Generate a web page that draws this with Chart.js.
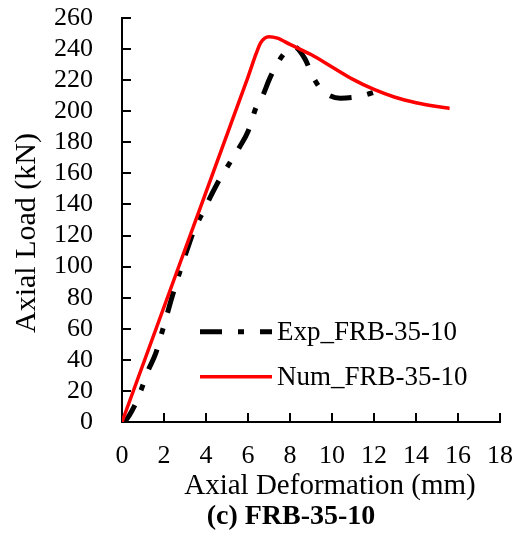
<!DOCTYPE html>
<html>
<head>
<meta charset="utf-8">
<title>FRB-35-10</title>
<script src="https://cdn.jsdelivr.net/npm/chart.js@4.4.1/dist/chart.umd.min.js"></script>
<style>
  html, body { margin: 0; padding: 0; background: #fff; }
  #wrap { width: 515px; height: 544px; }
</style>
</head>
<body>
<div id="wrap"><canvas id="loadDeformChart" width="515" height="544"></canvas></div>
<script>
// Axial load vs axial deformation for specimen FRB-35-10

// test curve (mm, kN)
const expDeformation = [0, 0.17, 0.57, 0.92, 1.21, 1.6, 1.8, 2.1, 2.35, 2.81, 3.13, 3.45, 3.85, 4.25, 4.64, 5.12, 5.6, 6.0, 6.4, 6.7, 7.03, 7.5, 7.9, 8.22, 8.7, 9.1, 9.5, 10.4, 11.3, 12.2];
const expLoad = [0, 1, 9.7, 21, 32, 44, 53, 67, 79, 99, 112, 124, 135, 146, 156, 166.5, 177, 187, 203, 210, 221, 233, 239.6, 241.3, 234, 222, 214, 208.4, 209.5, 213];

// FE model curve (mm, kN)
const numDeformation = [0, 1, 2, 3, 4, 5, 6, 6.4, 6.6, 6.8, 7.0, 7.4, 8, 9, 10, 11, 12, 13, 14, 15, 15.6];
const numLoad = [0, 37, 74, 111, 148, 185, 222, 237.5, 244, 247, 248, 247, 243, 236.5, 228.5, 220.5, 214, 209, 205.5, 203, 201.8];

const xTickValues = [0, 2, 4, 6, 8, 10, 12, 14, 16, 18];
const yTickValues = [0, 20, 40, 60, 80, 100, 120, 140, 160, 180, 200, 220, 240, 260];

const seriesLabels = ['Exp_FRB-35-10', 'Num_FRB-35-10'];
const xTitle = 'Axial Deformation (mm)';
const yTitle = 'Axial Load (kN)';
const caption = '(c) FRB-35-10';

const SERIF = '"Liberation Serif", "Times New Roman", serif';

const toPoints = (xs, ys) => xs.map((x, i) => ({ x, y: ys[i] }));

// axis titles, caption and the in-plot legend
const figureText = {
  id: 'figureText',
  afterDraw(chart) {
    const { ctx } = chart;
    ctx.save();
    ctx.fillStyle = '#000';
    ctx.textBaseline = 'middle';

    ctx.textAlign = 'center';
    ctx.font = `29px ${SERIF}`;
    ctx.fillText(xTitle, 330, 486);

    ctx.save();
    ctx.translate(27, 233);
    ctx.rotate(-Math.PI / 2);
    ctx.font = `30px ${SERIF}`;
    ctx.fillText(yTitle, 0, 0);
    ctx.restore();

    ctx.font = `bold 28px ${SERIF}`;
    ctx.fillText(caption, 291, 517);

    // legend rows
    const rows = [331.7, 376.7];
    ctx.textAlign = 'left';
    ctx.font = `27px ${SERIF}`;
    chart.data.datasets.forEach((ds, i) => {
      const y = rows[i];
      ctx.save();
      ctx.strokeStyle = ds.borderColor;
      ctx.lineWidth = ds.borderWidth;
      ctx.setLineDash(ds.borderDash || []);
      ctx.lineCap = 'butt';
      ctx.beginPath();
      ctx.moveTo(200, y);
      ctx.lineTo(272, y);
      ctx.stroke();
      ctx.restore();
      ctx.fillText(ds.label, 277, y + 1);
    });
    ctx.restore();
  }
};

const axisStyle = {
  border: { display: true, color: '#000', width: 2 },
  grid: { drawOnChartArea: false, drawTicks: true, tickLength: -9, color: '#000', lineWidth: 2 }
};

new Chart(document.getElementById('loadDeformChart'), {
  type: 'line',
  data: {
    datasets: [
      {
        label: seriesLabels[0],
        data: toPoints(expDeformation, expLoad),
        borderColor: '#000',
        borderWidth: 5,
        borderDash: [22, 16, 6, 16],
        pointRadius: 0,
        cubicInterpolationMode: 'monotone',
        order: 1
      },
      {
        label: seriesLabels[1],
        data: toPoints(numDeformation, numLoad),
        borderColor: '#ff0000',
        borderWidth: 3.5,
        pointRadius: 0,
        cubicInterpolationMode: 'monotone',
        order: 0
      }
    ]
  },
  options: {
    responsive: false,
    animation: false,
    devicePixelRatio: 1,
    layout: { padding: { top: 18, right: 15, left: 0, bottom: 0 } },
    plugins: {
      legend: { display: false },
      tooltip: { enabled: false }
    },
    scales: {
      x: {
        type: 'linear',
        min: 0,
        max: 18,
        ...axisStyle,
        afterBuildTicks: (scale) => { scale.ticks = xTickValues.map(v => ({ value: v })); },
        afterFit: (scale) => {
          scale.height = 122;
          scale.paddingLeft = 0;
          scale.paddingRight = 0;
        },
        ticks: { color: '#000', padding: 28, autoSkip: false, maxRotation: 0, font: { family: SERIF, size: 26 } }
      },
      y: {
        type: 'linear',
        min: 0,
        max: 260,
        ...axisStyle,
        afterBuildTicks: (scale) => { scale.ticks = yTickValues.map(v => ({ value: v })); },
        afterFit: (scale) => {
          scale.width = 122;
          scale.paddingTop = 0;
          scale.paddingBottom = 0;
        },
        ticks: { color: '#000', padding: 38, autoSkip: false, font: { family: SERIF, size: 26 } }
      }
    }
  },
  plugins: [figureText]
});
</script>
</body>
</html>
